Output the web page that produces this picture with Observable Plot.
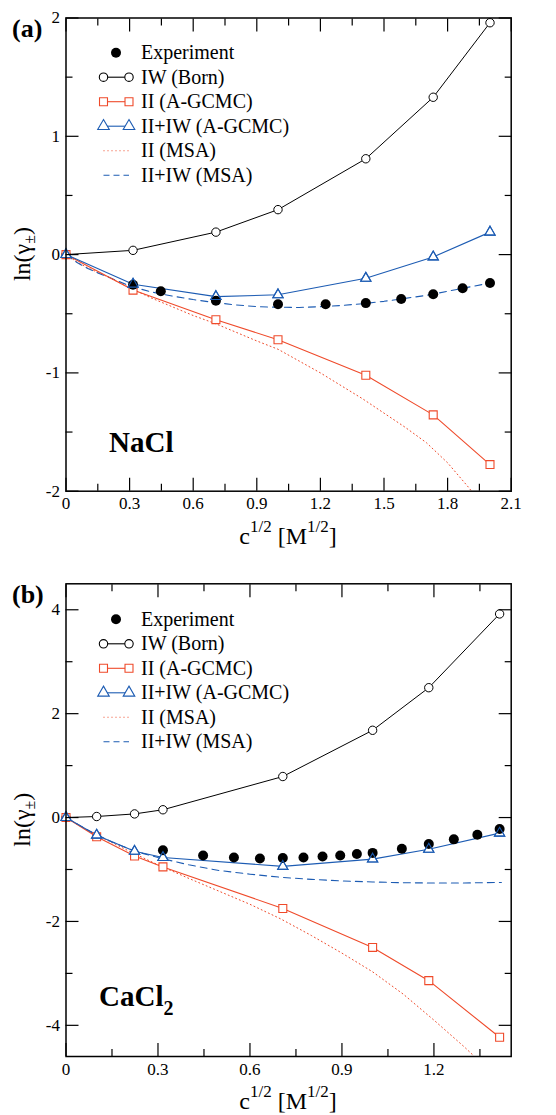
<!DOCTYPE html>
<html><head><meta charset="utf-8">
<script src="https://cdn.jsdelivr.net/npm/d3@7"></script>
<script src="https://cdn.jsdelivr.net/npm/@observablehq/plot@0.6"></script>
<style>
body{margin:0;background:#fff;}
#chart{width:556px;}
#chart svg{display:block;}
#chart svg text{font-family:"Liberation Serif","Times New Roman",Times,serif !important;}
</style></head><body><div id="chart"></div>
<script>
// ---------- Panel (a): NaCl ----------
const xCalcA = [0, 0.3162, 0.7071, 1.0, 1.4142, 1.7321, 2.0];
const iwBornA = [0, 0.036, 0.19, 0.38, 0.81, 1.33, 1.96];
const iiGcmcA = [0, -0.30, -0.55, -0.72, -1.02, -1.355, -1.775];
const iiIwGcmcA = [0, -0.25, -0.355, -0.34, -0.20, -0.02, 0.19];
const xExpA = [0.3162, 0.4472, 0.7071, 1.0, 1.2247, 1.4142, 1.5811, 1.7321, 1.8708, 2.0];
const expA = [-0.255, -0.31, -0.39, -0.42, -0.42, -0.41, -0.375, -0.335, -0.285, -0.24];
const xMsaA = [0, 0.05, 0.1, 0.15, 0.2, 0.3, 0.4, 0.5, 0.6, 0.7, 0.8, 0.9, 1.0, 1.1, 1.2, 1.3, 1.4, 1.5, 1.6, 1.7, 1.8, 1.9, 2.0];
const iiMsaA = [0, -0.06, -0.11, -0.15, -0.19, -0.28, -0.365, -0.44, -0.515, -0.58, -0.655, -0.73, -0.80, -0.90, -1.00, -1.11, -1.22, -1.34, -1.46, -1.59, -1.76, -1.97, -2.2];
const iiIwMsaA = [0, -0.065, -0.115, -0.155, -0.19, -0.265, -0.315, -0.35, -0.38, -0.405, -0.425, -0.44, -0.445, -0.447, -0.44, -0.43, -0.415, -0.395, -0.37, -0.345, -0.31, -0.275, -0.24];
const xTicksA = [0, 0.3, 0.6, 0.9, 1.2, 1.5, 1.8, 2.1];
const xTickLabelsA = ["0", "0.3", "0.6", "0.9", "1.2", "1.5", "1.8", "2.1"];
const xMinorA = [0.15, 0.45, 0.75, 1.05, 1.35, 1.65, 1.95];
const yTicksA = [-2, -1, 0, 1, 2];
const yTickLabelsA = ["-2", "-1", "0", "1", "2"];
const yMinorA = [-1.5, -0.5, 0.5, 1.5];

// ---------- Panel (b): CaCl2 ----------
const xCalcB = [0, 0.1, 0.2236, 0.3162, 0.7071, 1.0, 1.1832, 1.4142];
const iwBornB = [0, 0.02, 0.07, 0.15, 0.79, 1.68, 2.50, 3.92];
const iiGcmcB = [0, -0.37, -0.74, -0.95, -1.75, -2.50, -3.14, -4.23];
const iiIwGcmcB = [0, -0.34, -0.65, -0.77, -0.94, -0.80, -0.61, -0.30];
const xExpB = [0.3162, 0.4472, 0.5477, 0.6325, 0.7071, 0.7746, 0.8367, 0.8944, 0.9487, 1.0, 1.0954, 1.1832, 1.2649, 1.3416, 1.4142];
const expB = [-0.63, -0.73, -0.77, -0.79, -0.78, -0.77, -0.75, -0.73, -0.70, -0.68, -0.60, -0.51, -0.42, -0.33, -0.22];
const xMsaB = [0, 0.05, 0.1, 0.15, 0.2, 0.25, 0.3, 0.4, 0.5, 0.6, 0.7, 0.8, 0.9, 1.0, 1.1, 1.2, 1.3, 1.35, 1.42];
const iiMsaB = [0, -0.18, -0.34, -0.48, -0.63, -0.77, -0.91, -1.17, -1.42, -1.67, -1.95, -2.27, -2.61, -2.97, -3.40, -3.90, -4.42, -4.70, -5.1];
const iiIwMsaB = [0, -0.17, -0.33, -0.47, -0.59, -0.69, -0.77, -0.91, -1.02, -1.09, -1.15, -1.19, -1.22, -1.24, -1.255, -1.26, -1.26, -1.255, -1.25];
const xTicksB = [0, 0.3, 0.6, 0.9, 1.2];
const xTickLabelsB = ["0", "0.3", "0.6", "0.9", "1.2"];
const xMinorB = [0.15, 0.45, 0.75, 1.05, 1.35];
const yTicksB = [-4, -2, 0, 2, 4];
const yTickLabelsB = ["-4", "-2", "0", "2", "4"];
const yMinorB = [-3, -1, 1, 3];

const legendLabels = ["Experiment", "IW (Born)", "II (A-GCMC)", "II+IW (A-GCMC)", "II (MSA)", "II+IW (MSA)"];

const RED = "#ef4a2a";
const BLUE = "#1d5cb3";
const FONT = "Liberation Serif, Times New Roman, serif";

function pts(xs, ys) { return xs.map((x, i) => ({x, y: ys[i]})); }

function panel(cfg) {
  const W = 556, ML = 65.5, MR = 45.3;
  const born = pts(cfg.xCalc, cfg.born);
  const ii = pts(cfg.xCalc, cfg.ii);
  const iiIw = pts(cfg.xCalc, cfg.iiIw);
  const exp = pts(cfg.xExp, cfg.exp);
  const iiMsa = pts(cfg.xMsa, cfg.iiMsa);
  const iiIwMsa = pts(cfg.xMsa, cfg.iiIwMsa);
  const xLab = new Map(cfg.xTicks.map((t, i) => [t, cfg.xTickLabels[i]]));
  const yLab = new Map(cfg.yTicks.map((t, i) => [t, cfg.yTickLabels[i]]));
  const tickOpts = {tickFormat: () => "", label: null, strokeWidth: 1.2};
  const svg = Plot.plot({
    width: W, height: cfg.height,
    marginLeft: ML, marginRight: MR, marginTop: cfg.mt, marginBottom: cfg.mb,
    style: {fontFamily: FONT, background: "white", color: "black"},
    x: {domain: cfg.xDomain, label: null},
    y: {domain: cfg.yDomain, label: null},
    marks: [
      Plot.line(iiMsa, {x: "x", y: "y", stroke: RED, strokeWidth: 1, strokeDasharray: "1,3", clip: true}),
      Plot.line(iiIwMsa, {x: "x", y: "y", stroke: BLUE, strokeWidth: 1.1, strokeDasharray: "7,5", clip: true}),
      Plot.line(born, {x: "x", y: "y", stroke: "black", strokeWidth: 1}),
      Plot.line(ii, {x: "x", y: "y", stroke: RED, strokeWidth: 1.1}),
      Plot.line(iiIw, {x: "x", y: "y", stroke: BLUE, strokeWidth: 1.1}),
      Plot.dot(born, {x: "x", y: "y", r: 4.2, fill: "white", stroke: "black", strokeWidth: 1}),
      Plot.dot(ii, {x: "x", y: "y", symbol: "square", r: 4.5, fill: "white", stroke: RED, strokeWidth: 1.1}),
      Plot.dot(iiIw, {x: "x", y: "y", symbol: "triangle", r: 3.8, fill: "white", stroke: BLUE, strokeWidth: 1.1}),
      Plot.dot(exp, {x: "x", y: "y", r: 5, fill: "black"}),
      Plot.dot(iiIw, {x: "x", y: "y", symbol: "triangle", r: 3.8, fill: "none", stroke: BLUE, strokeWidth: 1.1}),
      // tick labels
      Plot.axisX(cfg.xTicks, {anchor: "bottom", tickSize: 0, tickPadding: 6, tickFormat: d => xLab.get(d), fontSize: 17, label: null}),
      Plot.axisY(cfg.yTicks, {anchor: "left", tickSize: 0, tickPadding: 6, tickFormat: d => yLab.get(d), fontSize: 17, label: null}),
      // inward ticks on all four sides
      Plot.axisX(cfg.xTicks, {anchor: "bottom", tickSize: -13, ...tickOpts}),
      Plot.axisX(cfg.xTicks, {anchor: "top", tickSize: -13, ...tickOpts}),
      Plot.axisX(cfg.xMinor, {anchor: "bottom", tickSize: -7, ...tickOpts}),
      Plot.axisX(cfg.xMinor, {anchor: "top", tickSize: -7, ...tickOpts}),
      Plot.axisY(cfg.yTicks, {anchor: "left", tickSize: -13, ...tickOpts}),
      Plot.axisY(cfg.yTicks, {anchor: "right", tickSize: -13, ...tickOpts}),
      Plot.axisY(cfg.yMinor, {anchor: "left", tickSize: -7, ...tickOpts}),
      Plot.axisY(cfg.yMinor, {anchor: "right", tickSize: -7, ...tickOpts}),
      Plot.frame({stroke: "black", strokeWidth: 1.5})
    ]
  });

  const s = d3.select(svg);
  const frameTop = cfg.mt, frameBottom = cfg.height - cfg.mb;
  const midY = (frameTop + frameBottom) / 2;
  const midX = (ML + (W - MR)) / 2;
  const txt = (sel) => sel.append("text").attr("font-family", FONT).attr("fill", "black");

  // y-axis title ln(γ±)
  const yt = txt(s).attr("transform", `translate(30,${midY}) rotate(-90)`)
    .attr("text-anchor", "middle").attr("font-size", 24);
  yt.append("tspan").text("ln(γ");
  yt.append("tspan").attr("font-size", 16).attr("dy", 5).text("±");
  yt.append("tspan").attr("dy", -5).text(")");

  // x-axis title c^1/2 [M^1/2]
  const xt = txt(s).attr("x", midX).attr("y", frameBottom + 53)
    .attr("text-anchor", "middle").attr("font-size", 24);
  xt.append("tspan").text("c");
  xt.append("tspan").attr("font-size", 17).attr("dy", -12).text("1/2");
  xt.append("tspan").attr("dy", 12).text(" [M");
  xt.append("tspan").attr("font-size", 17).attr("dy", -12).text("1/2");
  xt.append("tspan").attr("dy", 12).text("]");

  // panel letter
  txt(s).attr("x", 12).attr("y", cfg.letterY).attr("text-anchor", "start")
    .attr("font-size", 26).attr("font-weight", "bold").text(cfg.letter);

  // salt name
  const st = txt(s).attr("x", cfg.saltX).attr("y", cfg.saltY).attr("text-anchor", "start")
    .attr("font-size", 29).attr("font-weight", "bold");
  st.append("tspan").text(cfg.salt);
  if (cfg.saltSub) st.append("tspan").attr("font-size", 20).attr("dy", 9).text(cfg.saltSub);

  // legend
  const lx0 = 103.5, lx1 = 129, lxm = 116, tx = 141;
  const g = s.append("g");
  legendLabels.forEach((lab, i) => {
    const y = cfg.legendY + i * 24.5;
    const line = (stroke, dash) => g.append("line").attr("x1", lx0).attr("x2", lx1).attr("y1", y).attr("y2", y)
      .attr("stroke", stroke).attr("stroke-width", 1.1).attr("stroke-dasharray", dash || null);
    const sym = (type, r, stroke) => [lx0, lx1].forEach(x => g.append("path")
      .attr("d", d3.symbol(type, Math.PI * r * r)()).attr("transform", `translate(${x},${y})`)
      .attr("fill", "white").attr("stroke", stroke).attr("stroke-width", 1.1));
    if (i === 0) g.append("circle").attr("cx", lxm).attr("cy", y).attr("r", 5).attr("fill", "black");
    if (i === 1) { line("black"); sym(d3.symbolCircle, 4.2, "black"); }
    if (i === 2) { line(RED); sym(d3.symbolSquare, 4.5, RED); }
    if (i === 3) { line(BLUE); sym(d3.symbolTriangle, 4.3, BLUE); }
    if (i === 4) line(RED, "1,3");
    if (i === 5) line(BLUE, "6,4");
    txt(g).attr("x", tx).attr("y", y + 6.5).attr("text-anchor", "start").attr("font-size", 20).text(lab);
  });
  return svg;
}

const chart = document.getElementById("chart");
chart.appendChild(panel({
  height: 557, mt: 17.5, mb: 66.3,
  xDomain: [0, 2.1], yDomain: [-2, 2],
  xCalc: xCalcA, born: iwBornA, ii: iiGcmcA, iiIw: iiIwGcmcA,
  xExp: xExpA, exp: expA, xMsa: xMsaA, iiMsa: iiMsaA, iiIwMsa: iiIwMsaA,
  xTicks: xTicksA, xTickLabels: xTickLabelsA, xMinor: xMinorA,
  yTicks: yTicksA, yTickLabels: yTickLabelsA, yMinor: yMinorA,
  letter: "(a)", letterY: 36.5, salt: "NaCl", saltSub: null, saltX: 109, saltY: 451.7,
  legendY: 52.7
}));
chart.appendChild(panel({
  height: 558, mt: 26.3, mb: 59,
  xDomain: [0, 1.452], yDomain: [-4.6, 4.5],
  xCalc: xCalcB, born: iwBornB, ii: iiGcmcB, iiIw: iiIwGcmcB,
  xExp: xExpB, exp: expB, xMsa: xMsaB, iiMsa: iiMsaB, iiIwMsa: iiIwMsaB,
  xTicks: xTicksB, xTickLabels: xTickLabelsB, xMinor: xMinorB,
  yTicks: yTicksB, yTickLabels: yTickLabelsB, yMinor: yMinorB,
  letter: "(b)", letterY: 46, salt: "CaCl", saltSub: "2", saltX: 99, saltY: 449,
  legendY: 62.3
}));
</script></body></html>
